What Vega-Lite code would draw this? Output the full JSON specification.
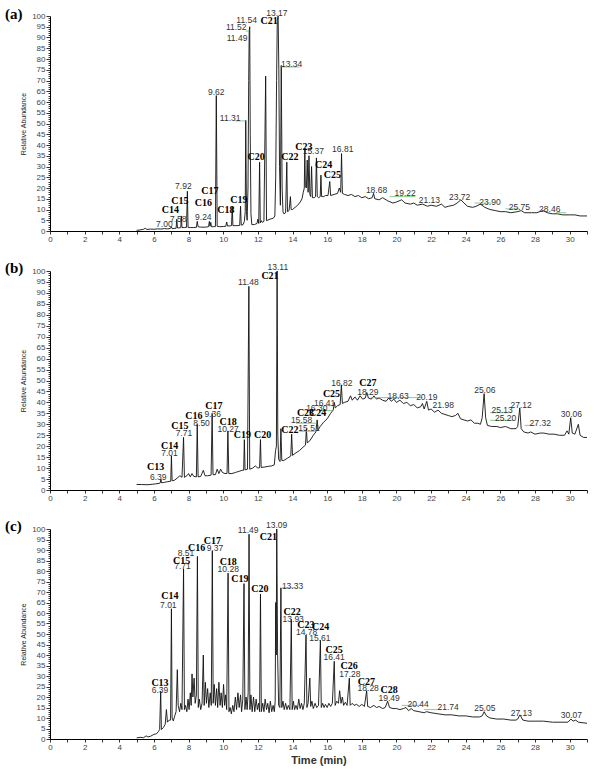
{
"$schema": "https://vega.github.io/schema/vega-lite/v6.json",
"padding": {"left": 5, "top": 6, "right": 5, "bottom": 5},
"spacing": 17,
"config": {
  "view": {"stroke": null},
  "axis": {"grid": false, "domainColor": "#000", "domainWidth": 1, "tickColor": "#000", "tickWidth": 0.8, "labelFont": "Liberation Sans", "labelFontSize": 8, "labelColor": "#444", "titleFont": "Liberation Sans", "titleFontWeight": "normal", "titleColor": "#222", "labelOverlap": false, "labelBound": false, "labelFlush": false},
  "text": {"align": "center", "baseline": "middle"}
},
"datasets": {
"a": [
{"t":5.0,"y":0.3},{"t":5.2,"y":0.5},{"t":5.4,"y":0.8},{"t":5.5,"y":1.3},{"t":5.6,"y":0.7},{"t":5.8,"y":0.9},{"t":6.0,"y":0.8},{"t":6.2,"y":1.0},{"t":6.4,"y":0.9},{"t":6.6,"y":1.1},{"t":6.8,"y":1.0},{"t":6.95,"y":1.2},{"t":7.0,"y":2.0},{"t":7.05,"y":1.1},{"t":7.2,"y":1.2},{"t":7.28,"y":1.3},{"t":7.32,"y":5.5},{"t":7.36,"y":1.4},{"t":7.5,"y":1.5},{"t":7.55,"y":1.6},{"t":7.58,"y":7},{"t":7.62,"y":1.6},{"t":7.75,"y":1.6},{"t":7.88,"y":1.7},{"t":7.93,"y":18.5},{"t":7.97,"y":1.7},{"t":8.1,"y":1.6},{"t":8.3,"y":1.6},{"t":8.45,"y":1.7},{"t":8.5,"y":4.5},{"t":8.55,"y":2.0},{"t":8.7,"y":1.8},{"t":9.0,"y":1.8},{"t":9.15,"y":2.0},{"t":9.2,"y":4.5},{"t":9.24,"y":2.2},{"t":9.28,"y":4.0},{"t":9.32,"y":2.0},{"t":9.45,"y":2.0},{"t":9.55,"y":2.1},{"t":9.6,"y":63},{"t":9.65,"y":2.2},{"t":9.8,"y":2.0},{"t":10.0,"y":2.1},{"t":10.15,"y":2.2},{"t":10.2,"y":4.2},{"t":10.25,"y":2.3},{"t":10.4,"y":2.4},{"t":10.48,"y":2.5},{"t":10.52,"y":11.5},{"t":10.56,"y":2.5},{"t":10.8,"y":2.5},{"t":10.95,"y":2.6},{"t":11.0,"y":11.5},{"t":11.04,"y":2.7},{"t":11.15,"y":3.0},{"t":11.22,"y":4.5},{"t":11.27,"y":9},{"t":11.3,"y":51.5},{"t":11.34,"y":9},{"t":11.38,"y":5},{"t":11.43,"y":20},{"t":11.47,"y":70},{"t":11.5,"y":93},{"t":11.53,"y":95},{"t":11.56,"y":45},{"t":11.6,"y":8},{"t":11.65,"y":3},{"t":11.8,"y":3},{"t":11.95,"y":3.5},{"t":12.0,"y":5.5},{"t":12.05,"y":3.5},{"t":12.1,"y":32},{"t":12.14,"y":3.8},{"t":12.2,"y":4.8},{"t":12.25,"y":4.0},{"t":12.35,"y":4.5},{"t":12.45,"y":72},{"t":12.5,"y":4.8},{"t":12.7,"y":5.5},{"t":12.9,"y":6},{"t":12.98,"y":7},{"t":13.03,"y":25},{"t":13.08,"y":70},{"t":13.12,"y":98},{"t":13.17,"y":100},{"t":13.21,"y":75},{"t":13.25,"y":30},{"t":13.3,"y":12},{"t":13.35,"y":77},{"t":13.4,"y":20},{"t":13.45,"y":9},{"t":13.5,"y":8},{"t":13.6,"y":8.5},{"t":13.67,"y":32},{"t":13.71,"y":9},{"t":13.8,"y":9.5},{"t":13.88,"y":16},{"t":13.92,"y":10},{"t":14.0,"y":10},{"t":14.15,"y":11},{"t":14.3,"y":12},{"t":14.45,"y":13.5},{"t":14.55,"y":15},{"t":14.62,"y":18},{"t":14.68,"y":20},{"t":14.71,"y":38},{"t":14.74,"y":21},{"t":14.8,"y":20},{"t":14.85,"y":33},{"t":14.9,"y":18},{"t":14.95,"y":35},{"t":15.0,"y":17},{"t":15.05,"y":16},{"t":15.1,"y":30},{"t":15.15,"y":15.5},{"t":15.25,"y":15.5},{"t":15.33,"y":16},{"t":15.38,"y":34},{"t":15.43,"y":16},{"t":15.5,"y":15.5},{"t":15.6,"y":16},{"t":15.64,"y":26},{"t":15.68,"y":16},{"t":15.8,"y":16},{"t":15.9,"y":16.5},{"t":16.05,"y":16.5},{"t":16.15,"y":23},{"t":16.2,"y":16.5},{"t":16.4,"y":17},{"t":16.6,"y":17.5},{"t":16.7,"y":20},{"t":16.78,"y":18},{"t":16.83,"y":36},{"t":16.88,"y":17.5},{"t":17.0,"y":17},{"t":17.2,"y":16.5},{"t":17.4,"y":17},{"t":17.6,"y":16},{"t":17.8,"y":16.5},{"t":18.0,"y":15.5},{"t":18.2,"y":16},{"t":18.4,"y":15},{"t":18.6,"y":15.5},{"t":18.68,"y":17.5},{"t":18.75,"y":15},{"t":19.0,"y":14.5},{"t":19.2,"y":15.5},{"t":19.5,"y":14},{"t":19.8,"y":13},{"t":20.0,"y":13.5},{"t":20.3,"y":14.5},{"t":20.5,"y":13},{"t":20.8,"y":12.5},{"t":21.0,"y":13},{"t":21.2,"y":12},{"t":21.5,"y":12.5},{"t":21.8,"y":11.5},{"t":22.0,"y":12},{"t":22.3,"y":11.5},{"t":22.6,"y":12.5},{"t":22.8,"y":11},{"t":23.0,"y":11.5},{"t":23.3,"y":12},{"t":23.5,"y":13},{"t":23.72,"y":14.5},{"t":23.9,"y":13},{"t":24.1,"y":11.5},{"t":24.4,"y":11},{"t":24.6,"y":11.5},{"t":24.85,"y":12.5},{"t":25.1,"y":11},{"t":25.4,"y":10},{"t":25.7,"y":9.5},{"t":26.0,"y":9},{"t":26.3,"y":9},{"t":26.6,"y":8.5},{"t":27.0,"y":9},{"t":27.2,"y":9.5},{"t":27.4,"y":8.5},{"t":27.8,"y":8.5},{"t":28.1,"y":8.5},{"t":28.46,"y":9.5},{"t":28.7,"y":8.5},{"t":29.0,"y":8},{"t":29.3,"y":8},{"t":29.6,"y":7.5},{"t":30.0,"y":7.5},{"t":30.3,"y":7.5},{"t":30.6,"y":7},{"t":31.0,"y":7}
],
"b": [
{"t":5.0,"y":2.5},{"t":5.3,"y":2.5},{"t":5.6,"y":2.4},{"t":5.9,"y":2.6},{"t":6.1,"y":2.8},{"t":6.3,"y":3.0},{"t":6.36,"y":3.2},{"t":6.4,"y":5.0},{"t":6.44,"y":3.3},{"t":6.6,"y":3.5},{"t":6.8,"y":3.8},{"t":6.97,"y":4},{"t":7.01,"y":15.5},{"t":7.05,"y":4.2},{"t":7.2,"y":4.5},{"t":7.35,"y":5.5},{"t":7.5,"y":6.5},{"t":7.62,"y":5.8},{"t":7.71,"y":24},{"t":7.76,"y":5.8},{"t":7.9,"y":6.5},{"t":8.0,"y":7.5},{"t":8.1,"y":6},{"t":8.2,"y":7.5},{"t":8.3,"y":6.2},{"t":8.45,"y":6},{"t":8.5,"y":30},{"t":8.55,"y":6},{"t":8.7,"y":6.2},{"t":8.85,"y":9},{"t":8.95,"y":6.5},{"t":9.1,"y":6.5},{"t":9.3,"y":6.8},{"t":9.36,"y":35},{"t":9.41,"y":7},{"t":9.55,"y":7},{"t":9.65,"y":9.5},{"t":9.75,"y":7.5},{"t":9.85,"y":9.5},{"t":9.95,"y":8},{"t":10.1,"y":7.5},{"t":10.22,"y":7.6},{"t":10.27,"y":27},{"t":10.32,"y":7.5},{"t":10.5,"y":7.5},{"t":10.7,"y":8},{"t":10.9,"y":8.5},{"t":11.1,"y":9},{"t":11.18,"y":9},{"t":11.22,"y":23},{"t":11.26,"y":9.2},{"t":11.4,"y":9.5},{"t":11.48,"y":93},{"t":11.53,"y":9.5},{"t":11.7,"y":10},{"t":11.85,"y":11},{"t":12.0,"y":10},{"t":12.1,"y":10.2},{"t":12.15,"y":23},{"t":12.19,"y":10.3},{"t":12.4,"y":10.5},{"t":12.6,"y":10.8},{"t":12.8,"y":11},{"t":12.95,"y":11.5},{"t":13.02,"y":18},{"t":13.07,"y":20},{"t":13.11,"y":100},{"t":13.15,"y":25},{"t":13.2,"y":14},{"t":13.28,"y":13},{"t":13.33,"y":28},{"t":13.38,"y":13.5},{"t":13.5,"y":13.5},{"t":13.7,"y":14.5},{"t":13.9,"y":15.5},{"t":13.95,"y":25.5},{"t":14.0,"y":15.8},{"t":14.2,"y":17},{"t":14.4,"y":18},{"t":14.6,"y":19.5},{"t":14.75,"y":20.5},{"t":14.8,"y":28},{"t":14.85,"y":21.5},{"t":15.0,"y":22.5},{"t":15.2,"y":25},{"t":15.35,"y":26.5},{"t":15.42,"y":32},{"t":15.48,"y":27.5},{"t":15.6,"y":29},{"t":15.8,"y":31},{"t":16.0,"y":32.5},{"t":16.2,"y":35},{"t":16.35,"y":36.5},{"t":16.41,"y":40},{"t":16.47,"y":37.5},{"t":16.6,"y":38.5},{"t":16.75,"y":39},{"t":16.82,"y":48},{"t":16.88,"y":39.5},{"t":17.0,"y":40},{"t":17.2,"y":40.5},{"t":17.35,"y":43},{"t":17.45,"y":41},{"t":17.6,"y":42.5},{"t":17.75,"y":41},{"t":17.9,"y":43},{"t":18.05,"y":41.5},{"t":18.2,"y":42},{"t":18.29,"y":44.5},{"t":18.38,"y":42},{"t":18.55,"y":41.5},{"t":18.7,"y":43},{"t":18.85,"y":41.5},{"t":19.0,"y":42},{"t":19.2,"y":41},{"t":19.4,"y":40.5},{"t":19.55,"y":42},{"t":19.7,"y":40.5},{"t":19.85,"y":41.5},{"t":20.0,"y":40},{"t":20.2,"y":41},{"t":20.4,"y":39.5},{"t":20.6,"y":40},{"t":20.8,"y":38.5},{"t":21.0,"y":39},{"t":21.2,"y":37.5},{"t":21.4,"y":38},{"t":21.5,"y":39.5},{"t":21.6,"y":37},{"t":21.75,"y":40.5},{"t":21.85,"y":36.5},{"t":22.0,"y":37},{"t":22.2,"y":35.5},{"t":22.4,"y":36.5},{"t":22.6,"y":35},{"t":22.8,"y":34.5},{"t":23.0,"y":34},{"t":23.2,"y":33.5},{"t":23.4,"y":34},{"t":23.55,"y":35},{"t":23.7,"y":32.5},{"t":23.9,"y":32},{"t":24.1,"y":31.5},{"t":24.3,"y":32},{"t":24.5,"y":30.5},{"t":24.7,"y":30.5},{"t":24.85,"y":30},{"t":24.95,"y":33},{"t":25.06,"y":44},{"t":25.15,"y":33},{"t":25.25,"y":29.5},{"t":25.5,"y":29},{"t":25.8,"y":29},{"t":26.0,"y":28.5},{"t":26.3,"y":29},{"t":26.6,"y":28},{"t":26.9,"y":28},{"t":27.0,"y":29},{"t":27.12,"y":37.5},{"t":27.2,"y":28},{"t":27.35,"y":26.5},{"t":27.6,"y":26},{"t":27.75,"y":26.5},{"t":28.0,"y":25.5},{"t":28.3,"y":26},{"t":28.5,"y":26},{"t":28.8,"y":25.5},{"t":29.1,"y":25.5},{"t":29.4,"y":25},{"t":29.7,"y":25},{"t":29.85,"y":27},{"t":29.95,"y":25.5},{"t":30.06,"y":33},{"t":30.15,"y":26},{"t":30.3,"y":25.5},{"t":30.5,"y":30},{"t":30.6,"y":25},{"t":30.8,"y":24},{"t":31.0,"y":24}
],
"c": [
{"t":5.0,"y":0.5},{"t":5.2,"y":0.8},{"t":5.4,"y":0.6},{"t":5.55,"y":1.5},{"t":5.65,"y":1.0},{"t":5.8,"y":1.3},{"t":6.0,"y":2.2},{"t":6.15,"y":2.5},{"t":6.25,"y":3.5},{"t":6.33,"y":4.5},{"t":6.39,"y":22.8},{"t":6.43,"y":4.5},{"t":6.55,"y":5.5},{"t":6.65,"y":7},{"t":6.72,"y":14},{"t":6.78,"y":8},{"t":6.88,"y":9},{"t":6.96,"y":9},{"t":7.01,"y":62},{"t":7.05,"y":10},{"t":7.12,"y":8.6},{"t":7.2,"y":11},{"t":7.28,"y":13},{"t":7.35,"y":33},{"t":7.4,"y":16},{"t":7.48,"y":13},{"t":7.55,"y":17},{"t":7.62,"y":14},{"t":7.71,"y":81},{"t":7.76,"y":14},{"t":7.82,"y":16},{"t":7.9,"y":13},{"t":7.97,"y":19},{"t":8.03,"y":14},{"t":8.1,"y":22},{"t":8.15,"y":16},{"t":8.2,"y":31},{"t":8.25,"y":20},{"t":8.32,"y":29},{"t":8.38,"y":17},{"t":8.45,"y":21},{"t":8.51,"y":87},{"t":8.56,"y":15},{"t":8.62,"y":19},{"t":8.7,"y":14},{"t":8.78,"y":17},{"t":8.85,"y":40},{"t":8.9,"y":16},{"t":8.97,"y":27},{"t":9.03,"y":17},{"t":9.1,"y":24},{"t":9.17,"y":15},{"t":9.25,"y":22},{"t":9.31,"y":16},{"t":9.37,"y":89.5},{"t":9.42,"y":17},{"t":9.48,"y":26},{"t":9.55,"y":16},{"t":9.62,"y":24},{"t":9.68,"y":15},{"t":9.75,"y":27},{"t":9.82,"y":16},{"t":9.88,"y":22},{"t":9.95,"y":15},{"t":10.02,"y":26},{"t":10.08,"y":16},{"t":10.14,"y":21},{"t":10.2,"y":14},{"t":10.28,"y":79},{"t":10.33,"y":13},{"t":10.4,"y":15},{"t":10.47,"y":12},{"t":10.55,"y":16},{"t":10.62,"y":13},{"t":10.7,"y":20},{"t":10.77,"y":14},{"t":10.85,"y":22},{"t":10.92,"y":15},{"t":11.0,"y":21},{"t":11.06,"y":13},{"t":11.13,"y":19},{"t":11.2,"y":74},{"t":11.25,"y":14},{"t":11.32,"y":20},{"t":11.38,"y":14},{"t":11.44,"y":22},{"t":11.49,"y":97.5},{"t":11.54,"y":14},{"t":11.6,"y":21},{"t":11.67,"y":13},{"t":11.75,"y":20},{"t":11.82,"y":13},{"t":11.9,"y":19},{"t":11.97,"y":14},{"t":12.04,"y":17},{"t":12.1,"y":13},{"t":12.15,"y":69},{"t":12.2,"y":13},{"t":12.28,"y":17},{"t":12.35,"y":13},{"t":12.42,"y":19},{"t":12.5,"y":14},{"t":12.57,"y":17},{"t":12.65,"y":12.5},{"t":12.72,"y":18},{"t":12.8,"y":13},{"t":12.88,"y":16},{"t":12.95,"y":13},{"t":13.0,"y":18},{"t":13.03,"y":65},{"t":13.06,"y":40},{"t":13.09,"y":100},{"t":13.14,"y":40},{"t":13.2,"y":16},{"t":13.27,"y":15},{"t":13.33,"y":72},{"t":13.38,"y":15},{"t":13.45,"y":18},{"t":13.52,"y":14},{"t":13.6,"y":17},{"t":13.68,"y":14},{"t":13.76,"y":16},{"t":13.85,"y":14},{"t":13.93,"y":57},{"t":13.98,"y":14},{"t":14.05,"y":18},{"t":14.12,"y":14},{"t":14.2,"y":16},{"t":14.28,"y":14},{"t":14.36,"y":19},{"t":14.44,"y":14.5},{"t":14.52,"y":17},{"t":14.6,"y":14},{"t":14.68,"y":17},{"t":14.78,"y":49.5},{"t":14.83,"y":15},{"t":14.9,"y":17},{"t":15.0,"y":29},{"t":15.05,"y":15.5},{"t":15.12,"y":18},{"t":15.2,"y":14.5},{"t":15.3,"y":17},{"t":15.4,"y":15},{"t":15.5,"y":16},{"t":15.61,"y":47},{"t":15.66,"y":15},{"t":15.74,"y":17},{"t":15.82,"y":15},{"t":15.9,"y":16.5},{"t":16.0,"y":15},{"t":16.1,"y":17},{"t":16.2,"y":15.5},{"t":16.3,"y":17},{"t":16.41,"y":37},{"t":16.46,"y":16},{"t":16.55,"y":18},{"t":16.65,"y":17},{"t":16.72,"y":23},{"t":16.8,"y":17},{"t":16.88,"y":20},{"t":16.95,"y":16},{"t":17.05,"y":17.5},{"t":17.15,"y":16},{"t":17.28,"y":29},{"t":17.33,"y":16},{"t":17.45,"y":17},{"t":17.55,"y":16},{"t":17.7,"y":16.5},{"t":17.85,"y":15.5},{"t":18.0,"y":16.5},{"t":18.15,"y":15.5},{"t":18.28,"y":23},{"t":18.34,"y":15.5},{"t":18.5,"y":15},{"t":18.7,"y":16},{"t":18.85,"y":15},{"t":19.0,"y":15.5},{"t":19.2,"y":14.5},{"t":19.35,"y":15},{"t":19.49,"y":18},{"t":19.6,"y":15},{"t":19.8,"y":14.5},{"t":20.0,"y":14.5},{"t":20.2,"y":14},{"t":20.4,"y":14.5},{"t":20.55,"y":15},{"t":20.7,"y":13.5},{"t":20.85,"y":14.5},{"t":21.0,"y":13.5},{"t":21.3,"y":13},{"t":21.6,"y":12.5},{"t":21.74,"y":13},{"t":22.0,"y":12.5},{"t":22.4,"y":12},{"t":22.8,"y":11.5},{"t":23.2,"y":11.5},{"t":23.6,"y":11},{"t":24.0,"y":11},{"t":24.4,"y":10.5},{"t":24.8,"y":10.5},{"t":24.95,"y":11},{"t":25.06,"y":13},{"t":25.2,"y":11},{"t":25.4,"y":10},{"t":25.8,"y":9.5},{"t":26.2,"y":9.5},{"t":26.6,"y":9},{"t":26.9,"y":9},{"t":27.0,"y":9.5},{"t":27.13,"y":11.5},{"t":27.3,"y":9},{"t":27.6,"y":8.5},{"t":28.0,"y":8.5},{"t":28.5,"y":8.5},{"t":29.0,"y":8},{"t":29.5,"y":8},{"t":29.9,"y":8},{"t":30.07,"y":9.5},{"t":30.2,"y":8.5},{"t":30.35,"y":9},{"t":30.5,"y":8},{"t":31.0,"y":7.5}
],
"ra": [
{"t":6.6,"y":3.2,"s":"7.00"},{"t":7.4,"y":5.4,"s":"7.58"},{"t":7.7,"y":20.8,"s":"7.92"},{"t":8.85,"y":6.5,"s":"9.24"},{"t":9.6,"y":64.5,"s":"9.62"},{"t":10.4,"y":52.5,"s":"11.31"},{"t":10.8,"y":90,"s":"11.49"},{"t":10.75,"y":95,"s":"11.52"},{"t":11.35,"y":98,"s":"11.54"},{"t":13.1,"y":101.5,"s":"13.17"},{"t":13.95,"y":77.5,"s":"13.34"},{"t":15.2,"y":37,"s":"15.37"},{"t":16.9,"y":38,"s":"16.81"},{"t":18.85,"y":19,"s":"18.68"},{"t":20.5,"y":17.6,"s":"19.22"},{"t":21.9,"y":14.4,"s":"21.13"},{"t":23.65,"y":15.8,"s":"23.72"},{"t":25.4,"y":13.5,"s":"23.90"},{"t":27.1,"y":11.2,"s":"25.75"},{"t":28.85,"y":10.2,"s":"28.46"}
],
"ca": [
{"t":6.95,"y":10,"s":"C14"},{"t":7.5,"y":14,"s":"C15"},{"t":8.85,"y":13,"s":"C16"},{"t":9.23,"y":18.7,"s":"C17"},{"t":10.15,"y":9.8,"s":"C18"},{"t":10.9,"y":14.4,"s":"C19"},{"t":11.9,"y":34.5,"s":"C20"},{"t":12.65,"y":97.7,"s":"C21"},{"t":13.85,"y":34.5,"s":"C22"},{"t":14.65,"y":39,"s":"C23"},{"t":15.8,"y":30.7,"s":"C24"},{"t":16.3,"y":26,"s":"C25"}
],
"ga": [
{"t":10.7,"t2":11.3,"y":51.2},{"t":11.3,"t2":11.5,"y":93},{"t":13.35,"t2":14.4,"y":76.3},{"t":19.6,"t2":21.1,"y":16},{"t":24.5,"t2":25.5,"y":13},{"t":26.3,"t2":27.1,"y":10.3},{"t":29.2,"t2":29.8,"y":8.5}
],
"rb": [
{"t":6.25,"y":6,"s":"6.39"},{"t":6.9,"y":17,"s":"7.01"},{"t":7.73,"y":26,"s":"7.71"},{"t":8.75,"y":30.4,"s":"8.50"},{"t":9.39,"y":34.6,"s":"9.36"},{"t":10.28,"y":28,"s":"10.27"},{"t":11.45,"y":95,"s":"11.48"},{"t":13.15,"y":102,"s":"13.11"},{"t":14.52,"y":31.8,"s":"15.58"},{"t":14.95,"y":28.3,"s":"15.51"},{"t":15.4,"y":37.5,"s":"16.30"},{"t":15.85,"y":39.7,"s":"16.41"},{"t":16.85,"y":49,"s":"16.82"},{"t":18.35,"y":44.7,"s":"18.29"},{"t":20.1,"y":43,"s":"18.63"},{"t":21.75,"y":42.5,"s":"20.19"},{"t":22.7,"y":38.8,"s":"21.98"},{"t":25.1,"y":45.7,"s":"25.06"},{"t":26.1,"y":36.5,"s":"25.13"},{"t":26.3,"y":33,"s":"25.20"},{"t":27.2,"y":39,"s":"27.12"},{"t":28.3,"y":30.6,"s":"27.32"},{"t":30.1,"y":34.7,"s":"30.06"}
],
"cb": [
{"t":6.1,"y":10.5,"s":"C13"},{"t":6.9,"y":20,"s":"C14"},{"t":7.5,"y":29,"s":"C15"},{"t":8.3,"y":33.8,"s":"C16"},{"t":9.46,"y":38.4,"s":"C17"},{"t":10.28,"y":31,"s":"C18"},{"t":11.1,"y":25,"s":"C19"},{"t":12.27,"y":25,"s":"C20"},{"t":12.7,"y":97.7,"s":"C21"},{"t":13.85,"y":27.2,"s":"C22"},{"t":14.75,"y":35,"s":"C23"},{"t":15.45,"y":35,"s":"C24"},{"t":16.25,"y":43.8,"s":"C25"},{"t":18.35,"y":49,"s":"C27"}
],
"gb": [
{"t":14.2,"t2":15.4,"y":30.5},{"t":14.4,"t2":15.3,"y":26.8},{"t":15.6,"t2":16.3,"y":36.3},{"t":15.9,"t2":16.5,"y":38.5},{"t":18.5,"t2":21.5,"y":42.2},{"t":25.4,"t2":26.6,"y":35.3},{"t":25.4,"t2":26.8,"y":31.8},{"t":27.4,"t2":28.0,"y":29.5}
],
"rc": [
{"t":6.35,"y":23.3,"s":"6.39"},{"t":6.83,"y":64,"s":"7.01"},{"t":7.65,"y":82.4,"s":"7.71"},{"t":7.85,"y":88.7,"s":"8.51"},{"t":9.52,"y":91,"s":"9.37"},{"t":10.29,"y":81,"s":"10.28"},{"t":11.44,"y":99.5,"s":"11.49"},{"t":13.08,"y":101.7,"s":"13.09"},{"t":14.0,"y":72.9,"s":"13.33"},{"t":14.04,"y":57,"s":"13.93"},{"t":14.81,"y":51,"s":"14.78"},{"t":15.58,"y":48,"s":"15.61"},{"t":16.4,"y":39,"s":"16.41"},{"t":17.31,"y":30.8,"s":"17.28"},{"t":18.37,"y":24.4,"s":"18.28"},{"t":19.58,"y":19.6,"s":"19.49"},{"t":21.25,"y":16.5,"s":"20.44"},{"t":22.98,"y":15.2,"s":"21.74"},{"t":25.1,"y":14.9,"s":"25.05"},{"t":27.21,"y":12.5,"s":"27.13"},{"t":30.1,"y":11.3,"s":"30.07"}
],
"cc": [
{"t":6.35,"y":26.8,"s":"C13"},{"t":6.92,"y":68,"s":"C14"},{"t":7.6,"y":85,"s":"C15"},{"t":8.46,"y":91,"s":"C16"},{"t":9.37,"y":94.3,"s":"C17"},{"t":10.29,"y":84.3,"s":"C18"},{"t":10.96,"y":76.3,"s":"C19"},{"t":12.12,"y":71.3,"s":"C20"},{"t":12.6,"y":96.3,"s":"C21"},{"t":13.98,"y":60.6,"s":"C22"},{"t":14.77,"y":54.3,"s":"C23"},{"t":15.62,"y":53.5,"s":"C24"},{"t":16.4,"y":42.4,"s":"C25"},{"t":17.27,"y":34.8,"s":"C26"},{"t":18.27,"y":27.1,"s":"C27"},{"t":19.58,"y":23.2,"s":"C28"}
],
"gc": [
{"t":13.4,"t2":14.2,"y":72},{"t":20.3,"t2":21.5,"y":16},{"t":21.6,"t2":22.6,"y":14}
]
},
"vconcat": [
{
"width": 537, "height": 215,
"title": {"text": "(a)", "orient": "top", "anchor": "start", "frame": "group", "dx": -45, "offset": -20, "baseline": "middle", "font": "Liberation Serif", "fontSize": 15, "fontWeight": "bold", "color": "#000"},
"encoding": {
  "x": {"field": "t", "type": "quantitative", "scale": {"domain": [0, 31], "nice": false}, "axis": {"title": null, "format": "d", "tickCount": 62, "labelExpr": "datum.value % 2 === 0 ? datum.label : ''", "tickSize": 3, "labelPadding": 1}},
  "y": {"field": "y", "type": "quantitative", "scale": {"domain": [0, 100], "nice": false}, "axis": {"title": "Relative Abundance", "titleFontSize": 7, "titlePadding": 5, "tickCount": 100, "labelExpr": "datum.value % 5 === 0 ? datum.label : ''", "tickSize": {"condition": {"test": "datum.value % 5 === 0", "value": 4}, "value": 2}, "labelPadding": 1}}
},
"layer": [
{"data": {"name": "a"}, "mark": {"type": "line", "color": "#111", "strokeWidth": 0.9}},
{"data": {"name": "ga"}, "mark": {"type": "rule", "color": "#6abf69", "strokeWidth": 0.8}, "encoding": {"x2": {"field": "t2"}}},
{"data": {"name": "ra"}, "mark": {"type": "text", "font": "Liberation Sans", "fontSize": 8.5, "color": "#333"}, "encoding": {"text": {"field": "s"}}},
{"data": {"name": "ca"}, "mark": {"type": "text", "font": "Liberation Serif", "fontSize": 10, "fontWeight": "bold", "color": "#000"}, "encoding": {"text": {"field": "s"}}}
]
},
{
"width": 537, "height": 219,
"title": {"text": "(b)", "orient": "top", "anchor": "start", "frame": "group", "dx": -45, "offset": -20, "baseline": "middle", "font": "Liberation Serif", "fontSize": 15, "fontWeight": "bold", "color": "#000"},
"encoding": {
  "x": {"field": "t", "type": "quantitative", "scale": {"domain": [0, 31], "nice": false}, "axis": {"title": null, "format": "d", "tickCount": 62, "labelExpr": "datum.value % 2 === 0 ? datum.label : ''", "tickSize": 3, "labelPadding": 1}},
  "y": {"field": "y", "type": "quantitative", "scale": {"domain": [0, 100], "nice": false}, "axis": {"title": "Relative Abundance", "titleFontSize": 7, "titlePadding": 5, "tickCount": 100, "labelExpr": "datum.value % 5 === 0 ? datum.label : ''", "tickSize": {"condition": {"test": "datum.value % 5 === 0", "value": 4}, "value": 2}, "labelPadding": 1}}
},
"layer": [
{"data": {"name": "b"}, "mark": {"type": "line", "color": "#111", "strokeWidth": 0.9}},
{"data": {"name": "gb"}, "mark": {"type": "rule", "color": "#6abf69", "strokeWidth": 0.8}, "encoding": {"x2": {"field": "t2"}}},
{"data": {"name": "rb"}, "mark": {"type": "text", "font": "Liberation Sans", "fontSize": 8.5, "color": "#333"}, "encoding": {"text": {"field": "s"}}},
{"data": {"name": "cb"}, "mark": {"type": "text", "font": "Liberation Serif", "fontSize": 10, "fontWeight": "bold", "color": "#000"}, "encoding": {"text": {"field": "s"}}}
]
},
{
"width": 537, "height": 210,
"title": {"text": "(c)", "orient": "top", "anchor": "start", "frame": "group", "dx": -45, "offset": -20, "baseline": "middle", "font": "Liberation Serif", "fontSize": 15, "fontWeight": "bold", "color": "#000"},
"encoding": {
  "x": {"field": "t", "type": "quantitative", "scale": {"domain": [0, 31], "nice": false}, "axis": {"title": "Time (min)", "titleFontSize": 11, "titleFontWeight": "bold", "titleColor": "#333", "titlePadding": 3, "format": "d", "tickCount": 62, "labelExpr": "datum.value % 2 === 0 ? datum.label : ''", "tickSize": 3, "labelPadding": 1}},
  "y": {"field": "y", "type": "quantitative", "scale": {"domain": [0, 100], "nice": false}, "axis": {"title": "Relative Abundance", "titleFontSize": 7, "titlePadding": 5, "tickCount": 100, "labelExpr": "datum.value % 5 === 0 ? datum.label : ''", "tickSize": {"condition": {"test": "datum.value % 5 === 0", "value": 4}, "value": 2}, "labelPadding": 1}}
},
"layer": [
{"data": {"name": "c"}, "mark": {"type": "line", "color": "#111", "strokeWidth": 0.9}},
{"data": {"name": "gc"}, "mark": {"type": "rule", "color": "#6abf69", "strokeWidth": 0.8}, "encoding": {"x2": {"field": "t2"}}},
{"data": {"name": "rc"}, "mark": {"type": "text", "font": "Liberation Sans", "fontSize": 8.5, "color": "#333"}, "encoding": {"text": {"field": "s"}}},
{"data": {"name": "cc"}, "mark": {"type": "text", "font": "Liberation Serif", "fontSize": 10, "fontWeight": "bold", "color": "#000"}, "encoding": {"text": {"field": "s"}}}
]
}
]
}
